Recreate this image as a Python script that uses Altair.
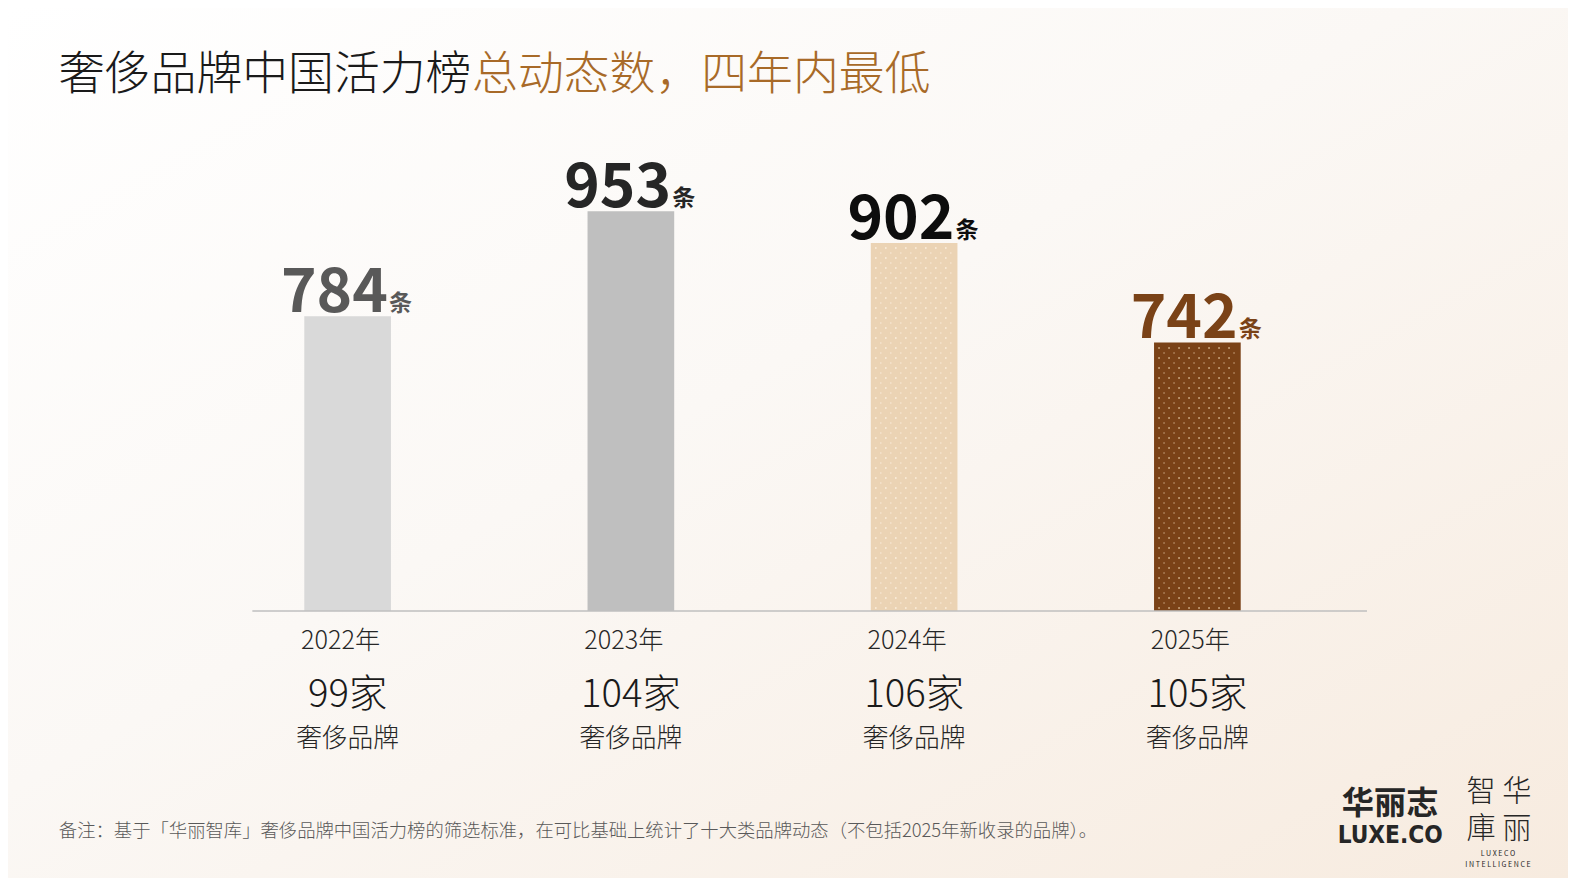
import altair as alt
import pandas as pd

# ---- data ----
years = ["2022年", "2023年", "2024年", "2025年"]
dynamics = [784, 953, 902, 742]
brand_counts = ["99家", "104家", "106家", "105家"]
brand_label = "奢侈品牌"
unit = "条"
patterned = ["2024年", "2025年"]

title_black = "奢侈品牌中国活力榜"
title_brown = "总动态数，四年内最低"
footnote = "备注：基于「华丽智库」奢侈品牌中国活力榜的筛选标准，在可比基础上统计了十大类品牌动态（不包括2025年新收录的品牌）。"

# ---- styles ----
bar_colors = ["#D9D9D9", "#BFBFBF", "#EBD3B4", "#7A4217"]
label_colors = ["#595959", "#262626", "#0D0D0D", "#7A4217"]
dot_colors = ["#FFFFFF", "#FFFFFF", "#FFF6EA", "#F3D9B5"]
FONT = "Noto Sans CJK SC"
S = 1.0078  # layout scale


def s(v):
    return v * S


df = pd.DataFrame({
    "year": years,
    "value": dynamics,
    "brands": brand_counts,
    "brandlabel": [brand_label] * len(years),
    "unit": [unit] * len(years),
    "lc": label_colors,
})

W, H = round(s(1124)), round(s(456))
YMIN, YMAX = 310, 1050
PI, PO = 0.694, 0.347          # band paddings -> step = W/4
STEP_PX = W / 4
BAR_PX = STEP_PX * (1 - PI)
ROW_PX = 5
units_per_px = (YMAX - YMIN) / H

# dot texture for the patterned bars (staggered grid inside each bar)
dots = []
for i, (yr, v, dc) in enumerate(zip(years, dynamics, dot_colors)):
    if yr not in patterned:
        continue
    r = 0
    while True:
        val = YMIN + (r + 0.6) * ROW_PX * units_per_px
        if val > v - 0.5 * ROW_PX * units_per_px:
            break
        start = 5 if r % 2 == 0 else 10
        for px in range(start, int(BAR_PX) - 2, 10):
            dots.append({"xq": i + PO + px / STEP_PX, "value": val, "dc": dc,
                         "op": 0.85 if r % 2 == 0 else 0.5})
        r += 1
dots_df = pd.DataFrame(dots)

PAD = {"left": 198, "top": 143, "right": 229, "bottom": 267}

base = alt.Chart(df)
xenc = alt.X("year:N", sort=years, axis=None,
             scale=alt.Scale(paddingInner=PI, paddingOuter=PO))
yscale = alt.Scale(domain=[YMIN, YMAX], zero=False, nice=False)

one = alt.Chart(pd.DataFrame({"k": [0]}))

bg = one.mark_rect(
    fill=alt.Gradient(
        gradient="linear", x1=0, y1=0, x2=1, y2=1,
        stops=[alt.GradientStop(color="#FFFFFF", offset=0),
               alt.GradientStop(color="#FBF8F5", offset=0.45),
               alt.GradientStop(color="#F7EBDF", offset=1)]),
    clip=False,
).encode(x=alt.value(-PAD["left"]), x2=alt.value(W + PAD["right"]),
         y=alt.value(-PAD["top"]), y2=alt.value(H + PAD["bottom"]))

bars = base.mark_bar().encode(
    x=xenc,
    y=alt.Y("value:Q", scale=yscale, axis=None),
    y2=alt.datum(YMIN),
    color=alt.Color("year:N", scale=alt.Scale(domain=years, range=bar_colors), legend=None),
)

texture = alt.Chart(dots_df).mark_square(size=2.2, strokeWidth=0).encode(
    x=alt.X("xq:Q", scale=alt.Scale(domain=[0, 4], nice=False, zero=False), axis=None),
    y=alt.Y("value:Q", scale=yscale),
    fill=alt.Fill("dc:N", scale=None),
    opacity=alt.Opacity("op:Q", scale=None),
)

baseline = one.mark_rule(color="#BFBFBF", strokeWidth=1.5).encode(
    x=alt.value(s(46)), x2=alt.value(s(1152)), y=alt.value(H))

num = base.mark_text(font=FONT, fontSize=s(60), fontWeight="bold", align="right",
                     baseline="alphabetic", dx=s(40), dy=s(-4)).encode(
    x=xenc, y=alt.Y("value:Q", scale=yscale),
    text=alt.Text("value:Q"),
    color=alt.Color("lc:N", scale=None))

unit_t = base.mark_text(font=FONT, fontSize=s(23), fontWeight="bold", align="left",
                        baseline="alphabetic", dx=s(41), dy=s(-5)).encode(
    x=xenc, y=alt.Y("value:Q", scale=yscale),
    text="unit:N",
    color=alt.Color("lc:N", scale=None))

year_t = base.mark_text(font=FONT, fontSize=s(25), fontWeight=300, color="#262626",
                        baseline="middle", dx=s(-7)).encode(
    x=xenc, y=alt.value(s(456 + 30)), text="year:N")
brand_n = base.mark_text(font=FONT, fontSize=s(38), fontWeight=300, color="#1A1A1A",
                         baseline="middle").encode(
    x=xenc, y=alt.value(s(456 + 85)), text="brands:N")
brand_l = base.mark_text(font=FONT, fontSize=s(25.5), fontWeight=300, color="#262626",
                         baseline="middle").encode(
    x=xenc, y=alt.value(s(456 + 127)), text="brandlabel:N")


def note(text, x, y, **kw):
    return alt.Chart(pd.DataFrame({"t": [text]})).mark_text(**kw).encode(
        x=alt.value(s(x)), y=alt.value(s(y)), text="t:N")


title1 = note(title_black, -146, -75, font=FONT, fontSize=s(45.5), fontWeight=300,
              color="#1A1A1A", align="left", baseline="middle")
title2 = note(title_brown, 264, -75, font=FONT, fontSize=s(45.5), fontWeight=300,
              color="#A86A28", align="left", baseline="middle")
foot = note(footnote, -146, 675, font=FONT, fontSize=s(18.2), fontWeight=300,
            color="#595959", align="left", baseline="middle")
logo1 = note("华丽志", 1175, 648, font=FONT, fontSize=s(32), fontWeight="bold",
             color="#262626", baseline="middle")
logo2 = note("LUXE.CO", 1175, 680, font="DejaVu Sans Condensed, Roboto",
             fontSize=s(24), fontWeight="bold", color="#262626", baseline="middle")
logo3 = note("智 华", 1283, 636, font=FONT, fontSize=s(29), fontWeight=300,
             color="#262626", baseline="middle")
logo4 = note("庫 丽", 1283, 673, font=FONT, fontSize=s(29), fontWeight=300,
             color="#262626", baseline="middle")
logo5 = note("L U X E C O", 1282, 698, font=FONT, fontSize=s(7), color="#262626",
             baseline="middle")
logo6 = note("I N T E L L I G E N C E", 1282, 708, font=FONT, fontSize=s(7),
             color="#262626", baseline="middle")

chart = alt.layer(
    bg, bars, texture, baseline, num, unit_t, year_t, brand_n, brand_l,
    title1, title2, foot, logo1, logo2, logo3, logo4, logo5, logo6,
).resolve_scale(x="independent").properties(
    width=W, height=H,
    autosize=alt.AutoSizeParams(type="none"),
    padding=PAD,
    background="#FBF8F5",
).configure_view(stroke=None)

chart.save("out.html", embed_options={"renderer": "svg", "actions": False})
